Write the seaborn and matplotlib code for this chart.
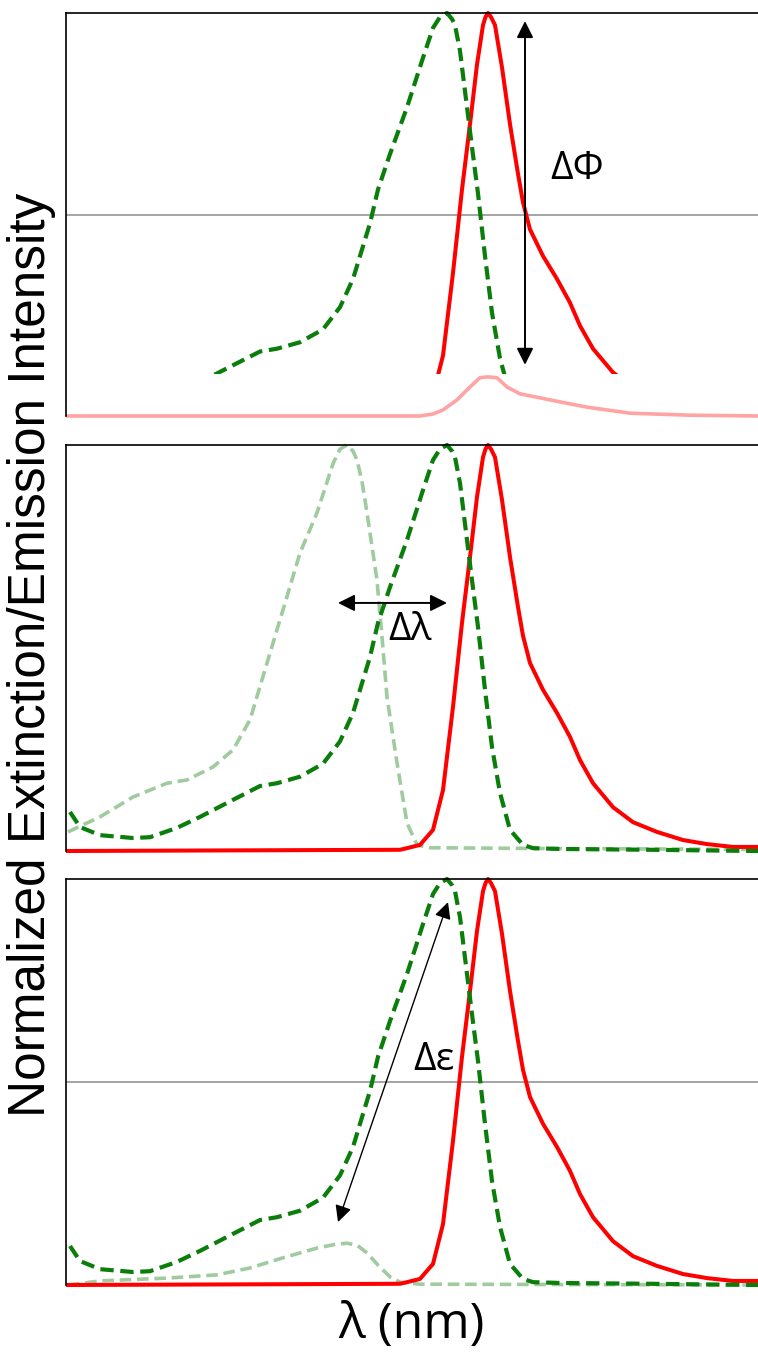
import matplotlib
matplotlib.use('Agg')
import matplotlib.pyplot as plt
from matplotlib.patches import Rectangle
import seaborn as sns

sns.set_theme(style='white')
plt.rcParams['font.family'] = ['Liberation Sans', 'DejaVu Sans']
plt.rcParams['text.color'] = 'black'

# wavelength (nm) / normalized value pairs
abs_wl = [402, 407, 417, 433.5, 442, 455.5, 467, 483.5, 497, 505.5, 517, 528.5, 537,
          543.5, 547, 552, 556, 562, 570.5, 578.5, 583.5, 587, 590.5, 593, 594.5, 597,
          600.5, 603, 606, 609.5, 613, 617, 622, 628.5, 633.5, 647, 692, 746]
abs_val = [0.096, 0.059, 0.039, 0.032, 0.034, 0.057, 0.084, 0.126, 0.160, 0.167, 0.183,
           0.215, 0.27, 0.34, 0.397, 0.478, 0.562, 0.650, 0.766, 0.889, 0.963, 0.99, 1.0,
           0.985, 0.97, 0.906, 0.766, 0.667, 0.552, 0.397, 0.256, 0.143, 0.052, 0.015,
           0.007, 0.005, 0.003, 0.0]

em_wl = [400, 567, 570.5, 577, 583.5, 588.5, 593.5, 598, 602, 605.5, 608.5, 609.75, 611,
         612.5, 614.5, 618, 622, 626, 628.5, 632, 638.5, 645.5, 652, 657, 663.5, 673.5,
         683.5, 695.5, 708.5, 720.5, 733.5, 746]
em_val = [0.0, 0.003, 0.007, 0.015, 0.052, 0.150, 0.355, 0.562, 0.724, 0.872, 0.970, 0.99,
          1.0, 0.99, 0.970, 0.865, 0.724, 0.601, 0.53, 0.463, 0.397, 0.340, 0.281, 0.224,
          0.167, 0.108, 0.071, 0.047, 0.027, 0.017, 0.01, 0.01]

# blue-shifted absorption (middle panel)
shift_wl = [401, 417, 433.5, 450.5, 460.5, 473.5, 483.5, 492, 500.5, 508.5, 517, 525.5,
            533.5, 537, 540.5, 543.5, 545.5, 548, 550.5, 555.5, 558, 560.5, 565.5, 570.5,
            575.5, 582, 642, 746]
shift_val = [0.047, 0.084, 0.133, 0.167, 0.175, 0.207, 0.249, 0.323, 0.463, 0.594, 0.734,
             0.833, 0.954, 0.99, 1.0, 0.985, 0.963, 0.91, 0.833, 0.667, 0.527, 0.379, 0.217,
             0.069, 0.015, 0.008, 0.006, 0.004]

# weaker absorption (bottom panel)
low_wl = [401, 417, 450.5, 475.5, 492, 508.5, 525.5, 534.5, 540.5, 545.5, 550.5, 556, 562,
          567, 577, 746]
low_val = [0.0, 0.01, 0.017, 0.025, 0.042, 0.067, 0.091, 0.1, 0.103, 0.098, 0.079, 0.049,
           0.02, 0.007, 0.002, 0.0]

# quenched emission (top panel)
q_wl = [400, 577, 583.5, 588.5, 595.5, 602, 607, 611, 615.5, 620.5, 627, 637, 647, 660.5,
        670.5, 682, 712, 746]
q_val = [0.0, 0.0, 0.005, 0.015, 0.040, 0.072, 0.095, 0.097, 0.095, 0.072, 0.055, 0.045,
         0.035, 0.022, 0.015, 0.007, 0.002, 0.0]

GREEN = '#0a7d0a'
PALE = '#9fcb9f'
RED = '#ff0000'
PINK = '#ffa3a3'
FONT_D = ['Open Sans', 'DejaVu Sans']
ARROW = '<|-|>,head_length=0.5,head_width=0.25'


def draw(ax, x, y, color, lw, dashed=False):
    sns.lineplot(x=x, y=y, ax=ax, color=color, linewidth=lw, estimator=None, sort=False)
    line = ax.lines[-1]
    if dashed:
        line.set_dashes([3.2, 1.6])
        line.set_dash_joinstyle('round')
    line.set_solid_joinstyle('round')
    line.set_solid_capstyle('butt')
    return line


fig = plt.figure(figsize=(7.58, 13.57), dpi=100)
ax1 = fig.add_axes([66 / 758, 1 - 416 / 1357, 692 / 758, 403 / 1357])
ax2 = fig.add_axes([66 / 758, 1 - 851 / 1357, 692 / 758, 406 / 1357])
ax3 = fig.add_axes([66 / 758, 1 - 1285 / 1357, 692 / 758, 406 / 1357])

for ax in (ax1, ax2, ax3):
    ax.set_xlim(400, 746)
    ax.set_ylim(0, 1)
    ax.set_xticks([])
    ax.set_yticks([])
    ax.set_xlabel('')
    ax.set_ylabel('')
    for side in ('right', 'bottom'):
        ax.spines[side].set_visible(False)
    for side in ('left', 'top'):
        ax.spines[side].set_color('black')
        ax.spines[side].set_linewidth(1.2)

# top panel: quantum yield change
ax1.axhline(0.5, color='#8c8c8c', lw=1.1, zorder=0)
pk = draw(ax1, q_wl, q_val, PINK, 2.6)
pk.set_clip_on(False)
clip = Rectangle((400, 0.105), 346, 1.0, transform=ax1.transData)
r = draw(ax1, em_wl, em_val, RED, 2.9)
g = draw(ax1, abs_wl, abs_val, GREEN, 3.0, dashed=True)
r.set_clip_path(clip)
g.set_clip_path(clip)
ax1.annotate('', xy=(629.5, 0.98), xytext=(629.5, 0.127),
             arrowprops=dict(arrowstyle=ARROW, color='black', lw=1.4,
                             mutation_scale=20, shrinkA=0, shrinkB=0))
ax1.text(655.5, 0.612, 'ΔΦ', fontsize=28, family=FONT_D, ha='center', va='center')

# middle panel: wavelength shift
p = draw(ax2, shift_wl, shift_val, PALE, 2.6, dashed=True)
r = draw(ax2, em_wl, em_val, RED, 2.9)
g = draw(ax2, abs_wl, abs_val, GREEN, 3.0, dashed=True)
for ln in (p, r, g):
    ln.set_clip_on(False)
ax2.annotate('', xy=(536, 0.611), xytext=(590.5, 0.611),
             arrowprops=dict(arrowstyle=ARROW, color='black', lw=1.4,
                             mutation_scale=20, shrinkA=0, shrinkB=0))
ax2.text(572, 0.544, 'Δλ', fontsize=28, family=FONT_D, ha='center', va='center')

# bottom panel: extinction change
ax3.axhline(0.5, color='#8c8c8c', lw=1.1, zorder=0)
p = draw(ax3, low_wl, low_val, PALE, 2.6, dashed=True)
r = draw(ax3, em_wl, em_val, RED, 2.9)
g = draw(ax3, abs_wl, abs_val, GREEN, 3.0, dashed=True)
for ln in (p, r, g):
    ln.set_clip_on(False)
ax3.annotate('', xy=(536, 0.155), xytext=(591, 0.943),
             arrowprops=dict(arrowstyle=ARROW, color='black', lw=1.0,
                             mutation_scale=20, shrinkA=0, shrinkB=0))
ax3.text(584, 0.554, 'Δε', fontsize=28, family=FONT_D, ha='center', va='center')

fig.text(32 / 758, 1 - 655 / 1357, 'Normalized Extinction/Emission Intensity',
         rotation=90, fontsize=37, ha='center', va='center',
         family=['Liberation Sans', 'DejaVu Sans'])
fig.text(411 / 758, 1 - 1325 / 1357, 'λ (nm)', fontsize=36, ha='center', va='center',
         family=FONT_D)

fig.savefig('out.png', dpi=100, facecolor='white')
